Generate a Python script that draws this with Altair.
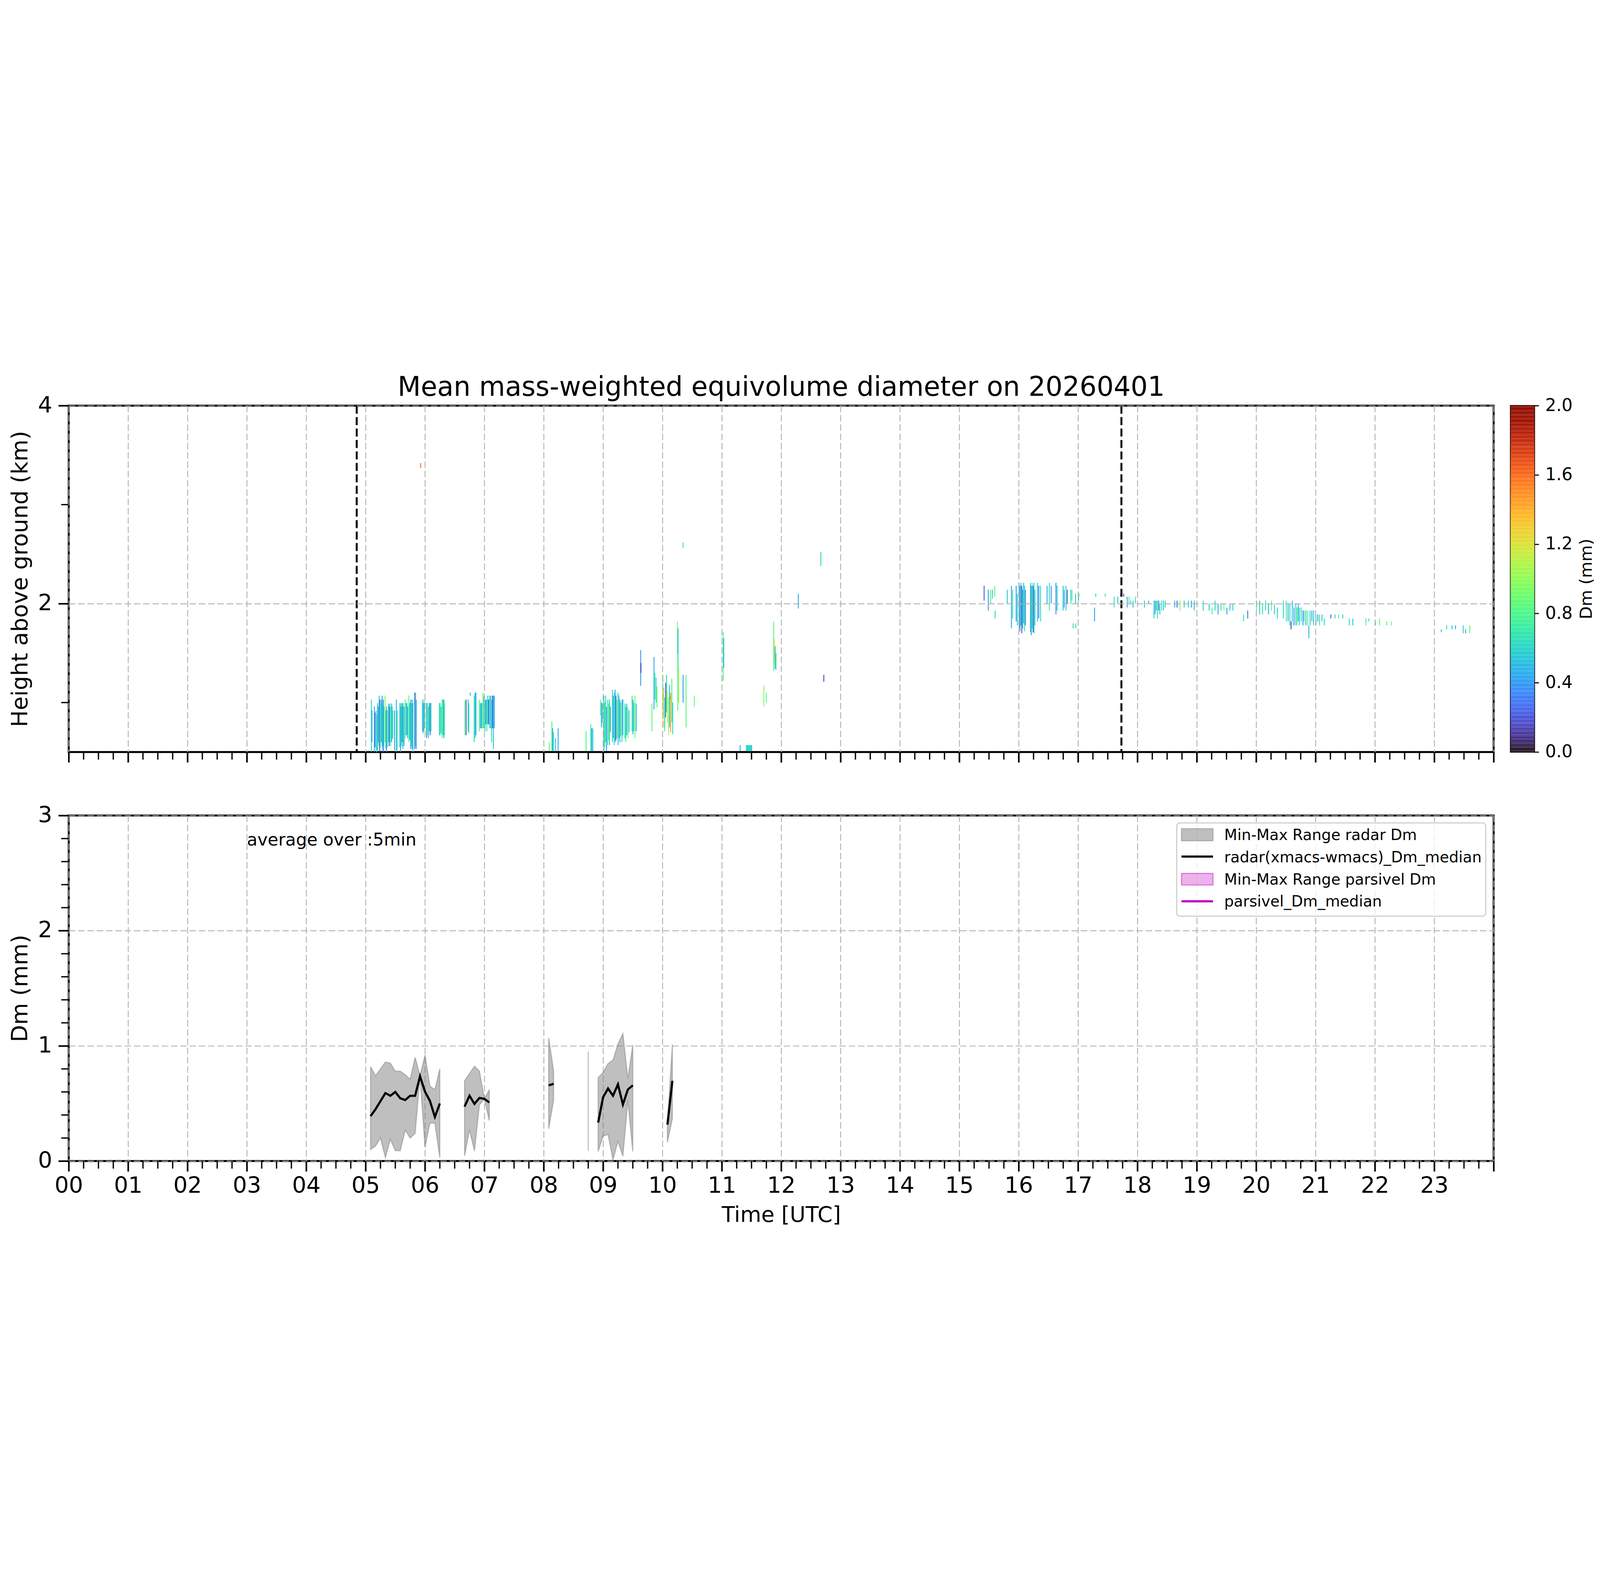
import altair as alt
import pandas as pd

# ---------------------------------------------------------------- data
title_text = "Mean mass-weighted equivolume diameter on 20260401"

# radar Dm curtain, read as vertical streaks:
# (time [h UTC], bottom [km], top [km], Dm [mm])
curtain_05 = [
    (5.09, 0.50, 1.03, 0.62), (5.10, 0.60, 0.92, 0.45), (5.14, 0.50, 0.96, 0.42),
    (5.15, 0.55, 0.90, 0.25), (5.17, 0.52, 0.92, 0.60), (5.18, 0.50, 0.88, 0.70),
    (5.195, 0.52, 0.995, 0.50), (5.205, 0.60, 0.96, 0.38), (5.22, 0.56, 1.07, 0.62),
    (5.23, 0.50, 1.03, 0.20), (5.24, 0.55, 0.99, 0.75), (5.255, 0.60, 1.03, 0.55),
    (5.27, 0.56, 1.07, 0.45), (5.28, 0.52, 0.99, 0.68), (5.29, 0.50, 1.03, 0.30),
    (5.30, 0.56, 0.96, 0.60), (5.32, 0.60, 1.07, 0.95), (5.335, 0.53, 0.92, 0.50),
    (5.345, 0.50, 0.96, 0.42), (5.36, 0.55, 0.92, 0.72), (5.38, 0.60, 0.99, 0.55),
    (5.39, 0.56, 0.96, 0.20), (5.40, 0.60, 0.99, 0.62), (5.415, 0.56, 0.96, 0.80),
    (5.43, 0.60, 0.99, 0.45), (5.44, 0.63, 0.96, 0.58), (5.45, 0.64, 0.92, 0.68),
    (5.48, 0.52, 0.92, 0.40), (5.51, 0.50, 1.03, 0.45), (5.525, 0.52, 0.92, 0.75),
    (5.57, 0.55, 0.995, 0.55), (5.58, 0.50, 0.96, 0.42), (5.59, 0.60, 0.995, 0.70),
    (5.60, 0.56, 0.96, 0.62), (5.61, 0.60, 0.995, 0.28), (5.62, 0.53, 0.96, 0.55),
    (5.63, 0.60, 0.995, 0.78), (5.64, 0.56, 0.96, 0.45), (5.66, 0.64, 1.03, 0.80),
    (5.675, 0.67, 0.995, 0.52), (5.69, 0.67, 0.995, 0.62), (5.70, 0.64, 0.96, 0.42),
    (5.72, 0.60, 1.07, 0.85), (5.735, 0.62, 0.995, 0.55), (5.75, 0.53, 1.03, 0.45),
    (5.76, 0.56, 0.995, 0.65), (5.775, 0.53, 1.03, 0.40), (5.79, 0.50, 0.995, 0.60),
    (5.82, 0.53, 1.10, 0.22), (5.835, 0.56, 1.10, 0.70), (5.845, 0.53, 1.03, 0.42),
    (5.95, 0.71, 1.03, 0.70), (5.96, 0.69, 0.995, 0.40), (5.975, 0.71, 1.03, 0.62),
    (5.985, 0.74, 0.995, 0.55), (6.02, 0.64, 0.995, 0.42), (6.035, 0.67, 0.995, 0.78),
    (6.05, 0.64, 0.96, 0.58), (6.065, 0.71, 0.995, 0.62), (6.08, 0.67, 0.995, 0.25),
    (6.095, 0.71, 0.995, 0.68), (6.235, 0.67, 0.995, 0.60), (6.25, 0.67, 0.995, 0.80),
    (6.265, 0.69, 0.96, 0.55), (6.28, 0.64, 1.03, 0.85), (6.295, 0.67, 1.03, 0.62),
    (6.31, 0.64, 1.03, 0.45), (6.32, 0.67, 0.995, 0.70),
]
curtain_07 = [
    (6.665, 0.67, 1.02, 0.85), (6.685, 0.67, 1.03, 0.20), (6.72, 0.71, 1.03, 0.50),
    (6.73, 0.69, 0.99, 0.62), (6.755, 1.07, 1.10, 0.45), (6.82, 0.60, 1.07, 0.75),
    (6.835, 0.64, 1.10, 0.55), (6.85, 0.67, 1.10, 0.40), (6.91, 0.71, 1.03, 0.80),
    (6.925, 0.74, 0.995, 0.60), (6.94, 0.74, 0.995, 0.45), (6.955, 0.74, 0.995, 0.68),
    (6.97, 0.74, 1.10, 0.90), (6.985, 0.74, 1.07, 0.55), (7.005, 0.71, 1.03, 0.62),
    (7.02, 0.78, 1.03, 0.40), (7.035, 0.71, 1.03, 0.70), (7.05, 0.78, 1.07, 0.55),
    (7.065, 0.78, 1.03, 0.25), (7.08, 0.74, 1.07, 0.62), (7.10, 0.74, 1.07, 0.45),
    (7.115, 0.60, 1.03, 0.62), (7.13, 0.74, 1.07, 0.20), (7.145, 0.53, 1.07, 0.55),
    (7.16, 0.74, 1.07, 0.42),
]
curtain_08 = [
    (8.085, 0.51, 0.60, 0.85), (8.13, 0.51, 0.81, 0.78), (8.142, 0.51, 0.74, 0.45),
    (8.155, 0.51, 0.70, 0.62), (8.19, 0.51, 0.64, 0.55), (8.235, 0.51, 0.74, 0.45),
    (8.705, 0.51, 0.71, 0.80), (8.785, 0.51, 0.78, 0.70), (8.80, 0.51, 0.74, 0.42),
    (8.82, 0.51, 0.74, 0.55),
]
curtain_09 = [
    (8.95, 0.87, 1.03, 0.85), (8.965, 0.75, 1.00, 0.45), (8.98, 0.80, 0.99, 0.62),
    (9.005, 0.51, 1.07, 0.55), (9.02, 0.55, 1.00, 0.80), (9.035, 0.60, 1.07, 0.62),
    (9.05, 0.51, 0.96, 0.40), (9.07, 0.57, 1.03, 0.70), (9.085, 0.62, 0.99, 0.95),
    (9.10, 0.57, 1.03, 0.55), (9.115, 0.70, 0.96, 0.45), (9.15, 0.60, 1.13, 0.62),
    (9.165, 0.64, 1.07, 0.50), (9.18, 0.57, 1.10, 0.70), (9.195, 0.60, 1.13, 0.42),
    (9.21, 0.62, 1.07, 0.25), (9.23, 0.64, 1.03, 0.90), (9.245, 0.57, 1.10, 0.55),
    (9.26, 0.64, 1.07, 0.65), (9.275, 0.60, 1.03, 0.45), (9.29, 0.66, 1.00, 0.80),
    (9.31, 0.60, 1.03, 0.62), (9.325, 0.67, 1.03, 0.40), (9.36, 0.64, 0.99, 0.62),
    (9.375, 0.60, 0.96, 0.75), (9.39, 0.67, 0.99, 0.45), (9.41, 0.64, 0.95, 0.85),
    (9.43, 0.70, 0.92, 0.55), (9.48, 0.71, 1.07, 0.78), (9.495, 0.68, 1.03, 0.45),
    (9.51, 0.71, 1.00, 0.62), (9.53, 0.64, 1.07, 0.90), (9.55, 0.71, 0.99, 0.50),
]
curtain_10 = [
    (9.625, 1.17, 1.53, 0.40), (9.63, 1.30, 1.40, 0.15), (9.815, 0.71, 0.99, 0.85),
    (9.85, 0.93, 1.46, 0.45), (9.865, 1.03, 1.30, 0.70), (9.885, 1.00, 1.25, 0.62),
    (9.90, 0.95, 1.16, 0.90), (10.0, 0.87, 1.28, 0.95), (10.015, 0.75, 1.15, 1.30),
    (10.03, 0.71, 1.05, 0.70), (10.045, 0.85, 1.20, 0.25), (10.06, 0.90, 1.28, 0.62),
    (10.075, 0.80, 1.12, 1.05), (10.095, 0.67, 1.05, 1.10), (10.11, 0.75, 1.18, 0.55),
    (10.12, 1.03, 1.07, 1.50), (10.13, 0.70, 1.10, 1.45), (10.15, 0.80, 1.24, 0.80),
    (10.165, 0.68, 1.00, 0.62), (10.245, 1.49, 1.82, 0.90), (10.255, 1.30, 1.75, 0.55),
    (10.25, 0.92, 1.46, 0.80), (10.265, 1.00, 1.35, 1.05), (10.34, 1.00, 1.28, 0.40),
    (10.39, 0.75, 1.28, 0.85), (10.53, 0.96, 1.07, 0.85),
]
curtain_11_12 = [
    (11.015, 1.22, 1.71, 0.80), (11.025, 1.35, 1.65, 0.50), (11.30, 0.51, 0.57, 0.42),
    (11.405, 0.51, 0.57, 0.62), (11.42, 0.51, 0.57, 0.55), (11.435, 0.51, 0.57, 0.65),
    (11.45, 0.51, 0.57, 0.58), (11.465, 0.51, 0.57, 0.62), (11.48, 0.51, 0.57, 0.55),
    (11.495, 0.51, 0.57, 0.60), (11.70, 0.96, 1.17, 0.95), (11.74, 1.00, 1.10, 0.85),
    (11.865, 1.32, 1.82, 0.80), (11.875, 1.40, 1.65, 1.20), (11.89, 1.34, 1.57, 0.45),
    (11.905, 1.33, 1.50, 0.70), (12.28, 1.95, 2.10, 0.45), (12.66, 2.38, 2.52, 0.60),
    (12.71, 1.21, 1.28, 0.15),
]
curtain_isolated = [
    (5.92, 3.37, 3.42, 1.60), (10.34, 2.56, 2.62, 0.75),
]
curtain_16 = [
    (15.41, 2.03, 2.18, 0.20), (15.48, 1.93, 2.14, 0.42), (15.52, 2.00, 2.14, 0.80),
    (15.55, 2.05, 2.14, 0.62), (15.59, 2.07, 2.18, 0.85), (15.595, 1.85, 1.93, 0.62),
    (15.80, 2.00, 2.14, 0.55), (15.87, 1.75, 2.18, 0.45), (15.89, 1.85, 2.14, 0.70),
    (15.95, 1.82, 2.18, 0.40), (15.97, 1.78, 2.10, 0.58), (16.00, 1.75, 2.21, 0.62),
    (16.015, 1.72, 2.18, 0.35), (16.03, 1.78, 2.21, 0.55), (16.045, 1.70, 2.18, 0.20),
    (16.06, 1.75, 2.14, 0.62), (16.075, 1.80, 2.21, 0.45), (16.09, 1.72, 2.18, 0.68),
    (16.105, 1.78, 2.14, 0.30), (16.19, 1.71, 2.21, 0.55), (16.205, 1.68, 2.18, 0.42),
    (16.22, 1.75, 2.21, 0.75), (16.235, 1.71, 2.18, 0.20), (16.25, 1.70, 2.21, 0.62),
    (16.265, 1.78, 2.14, 0.50), (16.31, 1.82, 2.21, 0.55), (16.33, 1.85, 2.18, 0.35),
    (16.36, 1.82, 2.18, 0.65), (16.47, 2.00, 2.18, 0.45), (16.51, 1.93, 2.21, 0.70),
    (16.54, 2.00, 2.18, 0.40), (16.62, 1.89, 2.21, 0.35), (16.64, 1.93, 2.18, 0.60),
    (16.74, 1.93, 2.18, 0.55), (16.76, 1.96, 2.14, 0.42), (16.79, 1.93, 2.18, 0.62),
    (16.81, 2.00, 2.14, 0.20), (16.87, 2.00, 2.14, 0.62), (16.89, 2.03, 2.14, 0.80),
    (16.91, 1.75, 1.80, 0.62), (16.95, 2.00, 2.10, 0.55), (16.955, 1.75, 1.80, 0.68),
    (17.00, 2.03, 2.10, 0.45), (17.01, 2.07, 2.11, 0.95), (17.27, 1.82, 1.96, 0.42),
    (17.29, 2.07, 2.10, 0.62), (17.45, 2.07, 2.10, 0.70), (17.60, 1.96, 2.07, 0.70),
    (17.66, 2.00, 2.07, 0.55), (17.71, 2.07, 2.10, 0.20), (17.76, 2.07, 2.10, 0.15),
]
curtain_18_23 = [
    (17.82, 1.96, 2.07, 0.45), (17.85, 2.00, 2.07, 0.80), (17.88, 2.00, 2.03, 0.62),
    (17.92, 1.96, 2.03, 0.55), (17.96, 2.00, 2.07, 0.70), (18.11, 1.96, 2.03, 0.55),
    (18.18, 2.00, 2.03, 0.45), (18.27, 1.85, 2.03, 0.62), (18.29, 1.89, 2.03, 0.40),
    (18.31, 1.93, 2.03, 0.55), (18.33, 1.85, 2.03, 0.65), (18.35, 1.93, 2.03, 0.30),
    (18.37, 1.89, 2.00, 0.62), (18.40, 1.93, 2.03, 0.75), (18.43, 1.93, 2.03, 0.55),
    (18.46, 1.96, 2.03, 0.62), (18.62, 1.96, 2.03, 0.45), (18.66, 1.96, 2.03, 0.20),
    (18.71, 1.93, 2.03, 0.95), (18.78, 1.96, 2.03, 0.55), (18.85, 1.96, 2.03, 0.62),
    (18.90, 1.96, 2.03, 0.40), (18.95, 1.93, 2.03, 0.55), (19.10, 1.93, 2.03, 0.62),
    (19.20, 1.93, 2.00, 0.55), (19.25, 1.89, 1.96, 0.80), (19.30, 1.93, 2.03, 0.62),
    (19.35, 1.89, 2.00, 0.45), (19.40, 1.93, 2.00, 0.70), (19.45, 1.93, 2.00, 0.95),
    (19.50, 1.89, 1.96, 0.42), (19.55, 1.93, 2.00, 0.55), (19.60, 1.93, 2.00, 0.62),
    (19.78, 1.82, 1.89, 0.70), (19.85, 1.85, 1.93, 0.25), (20.00, 1.93, 2.03, 0.85),
    (20.05, 1.89, 2.03, 0.55), (20.10, 1.89, 2.00, 0.70), (20.15, 1.93, 2.03, 0.62),
    (20.20, 1.89, 2.00, 0.45), (20.25, 1.93, 2.03, 0.85), (20.30, 1.89, 2.00, 0.62),
    (20.35, 1.85, 1.96, 0.55), (20.45, 1.85, 2.03, 0.62), (20.50, 1.82, 2.03, 0.75),
    (20.53, 1.82, 2.00, 0.45), (20.56, 1.78, 2.00, 0.62), (20.58, 1.74, 1.82, 0.15),
    (20.60, 1.82, 2.03, 0.55), (20.63, 1.78, 1.96, 0.35), (20.66, 1.78, 2.00, 0.62),
    (20.68, 1.78, 1.96, 0.80), (20.70, 1.82, 2.00, 0.45), (20.72, 1.78, 1.96, 0.58),
    (20.75, 1.82, 1.96, 0.65), (20.78, 1.78, 1.93, 0.40), (20.80, 1.82, 1.93, 0.62),
    (20.83, 1.78, 1.93, 0.55), (20.86, 1.78, 1.93, 0.80), (20.88, 1.65, 1.78, 0.50),
    (20.90, 1.78, 1.93, 0.62), (20.93, 1.82, 1.93, 0.45), (20.96, 1.78, 1.93, 0.55),
    (21.00, 1.78, 1.89, 0.62), (21.03, 1.82, 1.89, 0.40), (21.06, 1.78, 1.89, 0.70),
    (21.10, 1.82, 1.89, 0.55), (21.14, 1.78, 1.85, 0.62), (21.25, 1.85, 1.89, 0.20),
    (21.32, 1.85, 1.89, 0.62), (21.38, 1.85, 1.89, 0.80), (21.45, 1.85, 1.89, 0.55),
    (21.56, 1.78, 1.85, 0.62), (21.62, 1.78, 1.85, 0.55), (21.84, 1.78, 1.85, 0.80),
    (21.89, 1.82, 1.85, 0.70), (22.00, 1.78, 1.82, 0.55), (22.07, 1.78, 1.85, 0.85),
    (22.19, 1.78, 1.82, 0.80), (22.27, 1.78, 1.82, 0.90), (23.11, 1.71, 1.74, 0.55),
    (23.20, 1.74, 1.78, 0.62), (23.29, 1.74, 1.78, 0.55), (23.35, 1.74, 1.78, 0.45),
    (23.48, 1.70, 1.78, 0.62), (23.52, 1.70, 1.74, 0.40), (23.59, 1.70, 1.78, 0.85),
]

# dashed event markers in the upper panel [h UTC]
event_times = [4.85, 17.73]

# 5-min statistics of the radar Dm (lower panel), one list per continuous run
stat_times = [
    ["05:05", "05:10", "05:15", "05:20", "05:25", "05:30", "05:35", "05:40",
     "05:45", "05:50", "05:55", "06:00", "06:05", "06:10", "06:15"],
    ["06:40", "06:45", "06:50", "06:55", "07:00", "07:05"],
    ["08:05", "08:10"],
    ["08:45"],
    ["08:55", "09:00", "09:05", "09:10", "09:15", "09:20", "09:25", "09:30"],
    ["10:05", "10:10"],
]
stat_median = [
    [0.39, 0.45, 0.52, 0.59, 0.567, 0.60, 0.545, 0.53, 0.567, 0.567, 0.736, 0.603, 0.522, 0.383, 0.50],
    [0.473, 0.567, 0.496, 0.548, 0.54, 0.509],
    [0.657, 0.671],
    [None],
    [0.334, 0.554, 0.63, 0.567, 0.666, 0.491, 0.621, 0.657],
    [0.316, 0.697],
]
stat_max = [
    [0.82, 0.74, 0.80, 0.86, 0.85, 0.78, 0.78, 0.75, 0.71, 0.90, 0.74, 0.92, 0.65, 0.62, 0.80],
    [0.697, 0.76, 0.823, 0.781, 0.54, 0.619],
    [1.07, 0.78],
    [0.95],
    [0.724, 0.769, 0.846, 0.877, 1.016, 1.106, 0.715, 1.007],
    [0.316, 1.012],
]
stat_min = [
    [0.10, 0.13, 0.20, 0.03, 0.19, 0.09, 0.09, 0.27, 0.20, 0.24, 0.736, 0.12, 0.33, 0.33, 0.03],
    [0.047, 0.271, 0.087, 0.487, 0.54, 0.352],
    [0.28, 0.53],
    [0.09],
    [0.083, 0.217, 0.231, 0.011, 0.172, 0.042, 0.531, 0.083],
    [0.163, 0.37],
]

hour_ticks = list(range(0, 25))
hour_minor_ticks = [q / 4 for q in range(0, 97) if q % 4]
height_major_ticks = [2, 4]
height_minor_ticks = [1, 3]
dm_major_ticks = [0, 1, 2, 3]
dm_minor_ticks = [0.2, 0.4, 0.6, 0.8, 1.2, 1.4, 1.6, 1.8, 2.2, 2.4, 2.6, 2.8]
cbar_ticks = [0.0, 0.4, 0.8, 1.2, 1.6, 2.0]
legend_labels = ["Min-Max Range radar Dm", "radar(xmacs-wmacs)_Dm_median",
                 "Min-Max Range parsivel Dm", "parsivel_Dm_median"]
average_note = "average over :5min"

# ---------------------------------------------------------------- frames
def to_hours(hhmm):
    h, m = hhmm.split(":")
    return int(h) + int(m) / 60.0

curtain_rows = []
for cluster in [curtain_05, curtain_07, curtain_08, curtain_09, curtain_10,
                curtain_11_12, curtain_isolated, curtain_16, curtain_18_23]:
    for t, b, tp, dm in cluster:
        curtain_rows.append({"t": t, "bottom": b, "top": tp, "dm": dm})
curtain_df = pd.DataFrame(curtain_rows)

stat_rows = []
for i, times in enumerate(stat_times):
    for j, hhmm in enumerate(times):
        stat_rows.append({"seg": i, "t": to_hours(hhmm), "dmin": stat_min[i][j],
                          "dmax": stat_max[i][j], "med": stat_median[i][j]})
stat_df = pd.DataFrame(stat_rows)

# ---------------------------------------------------------------- style
FONT = "DejaVu Sans"
W = 6600
H1 = 1604
H2 = 1600
CBW = 111
STREAK_W = 0.015
MAJ = 48
MIN = 35
GRID = dict(grid=True, gridColor="#b0b0b0", gridDash=[30, 13], gridWidth=4)

x_scale = alt.Scale(domain=[0, 24], nice=False, zero=False)
y_top_scale = alt.Scale(domain=[0.5, 4], nice=False, zero=False)
y_bot_scale = alt.Scale(domain=[0, 3], nice=False, zero=False)
turbo = alt.Scale(scheme="turbo", domain=[0, 2])
frame = alt.ViewBackground(stroke="black", strokeWidth=9, fill="white")

x_axis_top = alt.Axis(values=hour_ticks, labels=False, tickSize=MAJ, tickWidth=7.5,
                      tickColor="black", domain=False, title=None, zindex=1, **GRID)
x_axis_bot = alt.Axis(values=hour_ticks, tickSize=MAJ, tickWidth=7.5, tickColor="black",
                      domain=False, zindex=0,
                      labelExpr="datum.value < 24 ? format(datum.value, '02d') : ''",
                      labelFontSize=104, labelPadding=17, labelFlush=False,
                      labelOverlap=False, labelColor="black", labelFont=FONT,
                      title="Time [UTC]", titleFontSize=100, titleFontWeight="normal",
                      titlePadding=33, titleColor="black", titleFont=FONT, **GRID)
y_axis_top = alt.Axis(values=height_major_ticks, format="d", tickSize=MAJ, tickWidth=7.5,
                      tickColor="black", domain=False, zindex=1, labelFontSize=104,
                      labelPadding=29, labelColor="black", labelFont=FONT,
                      title="Height above ground (km)", titleFontSize=104,
                      titleFontWeight="normal", titlePadding=27, titleColor="black",
                      titleFont=FONT, **GRID)
y_axis_bot = alt.Axis(values=dm_major_ticks, format="d", tickSize=MAJ, tickWidth=7.5,
                      tickColor="black", domain=False, zindex=0, labelFontSize=104,
                      labelPadding=29, labelColor="black", labelFont=FONT,
                      title="Dm (mm)", titleFontSize=104, titleFontWeight="normal",
                      titlePadding=27, titleColor="black", titleFont=FONT, **GRID)


def minor_x(height):
    return alt.Chart(pd.DataFrame({"t": hour_minor_ticks})).mark_rule(
        color="black", strokeWidth=6).encode(
        x=alt.X("t:Q", scale=x_scale),
        y=alt.value(height), y2=alt.value(height + MIN))


def minor_y(values, scale, field):
    return alt.Chart(pd.DataFrame({field: values})).mark_rule(
        color="black", strokeWidth=6).encode(
        y=alt.Y(field + ":Q", scale=scale),
        x=alt.value(0), x2=alt.value(-MIN))


# ---------------------------------------------------------------- upper panel
heat = alt.Chart(curtain_df).transform_calculate(
    t2="datum.t + %f" % STREAK_W
).mark_rect().encode(
    x=alt.X("t:Q", scale=x_scale, axis=x_axis_top),
    x2="t2:Q",
    y=alt.Y("bottom:Q", scale=y_top_scale, axis=y_axis_top),
    y2="top:Q",
    color=alt.Color("dm:Q", scale=turbo, legend=None),
)
events = alt.Chart(pd.DataFrame({"t": event_times})).mark_rule(
    color="black", strokeWidth=9, strokeDash=[37, 16]).encode(
    x=alt.X("t:Q", scale=x_scale))

top = alt.layer(
    heat, events, minor_x(H1), minor_y(height_minor_ticks, y_top_scale, "bottom")
).properties(
    width=W, height=H1, view=frame,
    title=alt.TitleParams(text=title_text, fontSize=124, font=FONT, fontWeight="normal",
                          anchor="middle", frame="group", baseline="alphabetic",
                          offset=-131, color="black"),
)

cbar = alt.Chart(alt.sequence(0, 2.0, 0.005, as_="v")).transform_calculate(
    v2="datum.v + 0.005"
).mark_rect().encode(
    x=alt.value(0), x2=alt.value(CBW),
    y=alt.Y("v:Q", scale=alt.Scale(domain=[0, 2], nice=False, zero=False),
            axis=alt.Axis(orient="right", values=cbar_ticks, format=".1f", tickSize=20,
                          tickWidth=5, tickColor="black", domain=False, grid=False,
                          labelFontSize=80, labelPadding=29, labelColor="black",
                          labelFont=FONT, title="Dm (mm)", titleFontSize=78,
                          titleFontWeight="normal", titleAngle=270, titleBaseline="top",
                          titlePadding=27, titleColor="black", titleFont=FONT)),
    y2="v2:Q",
    color=alt.Color("v:Q", scale=turbo, legend=None),
).properties(width=CBW, height=H1,
             view=alt.ViewBackground(stroke="black", strokeWidth=5))

# ---------------------------------------------------------------- lower panel
area = alt.Chart(stat_df).mark_area(
    fill="#808080", fillOpacity=0.5, stroke="#808080", strokeOpacity=0.5, strokeWidth=5
).encode(
    x=alt.X("t:Q", scale=x_scale, axis=x_axis_bot),
    y=alt.Y("dmin:Q", scale=y_bot_scale, axis=y_axis_bot),
    y2="dmax:Q",
    detail="seg:N",
)
median = alt.Chart(stat_df).transform_filter("isValid(datum.med)").mark_line(
    color="black", strokeWidth=10).encode(
    x=alt.X("t:Q", scale=x_scale),
    y=alt.Y("med:Q", scale=y_bot_scale),
    detail="seg:N",
)
note = alt.Chart(pd.DataFrame({"txt": [average_note]})).mark_text(
    align="left", baseline="alphabetic", fontSize=80, font=FONT, color="black"
).encode(x=alt.value(W * 0.125), y=alt.value(138), text="txt:N")


def one(label):
    return pd.DataFrame({"label": [label]})


LX0, LX1, LTX = 5154, 5300, 5352
legend_frame = alt.Chart(one("frame")).mark_rect(
    fill="white", fillOpacity=0.8, stroke="#cccccc", strokeWidth=5, cornerRadius=14
).encode(x=alt.value(5132), x2=alt.value(6563), y=alt.value(34), y2=alt.value(466))
leg_patch_radar = alt.Chart(one(legend_labels[0])).mark_rect(
    fill="#808080", fillOpacity=0.5, stroke="#808080", strokeOpacity=0.5, strokeWidth=5
).encode(x=alt.value(LX0), x2=alt.value(LX1), y=alt.value(61), y2=alt.value(117))
leg_line_radar = alt.Chart(one(legend_labels[1])).mark_rule(
    color="black", strokeWidth=10
).encode(x=alt.value(LX0), x2=alt.value(LX1), y=alt.value(190))
leg_patch_pars = alt.Chart(one(legend_labels[2])).mark_rect(
    fill="#bf00bf", fillOpacity=0.3, stroke="#bf00bf", strokeOpacity=0.45, strokeWidth=5
).encode(x=alt.value(LX0), x2=alt.value(LX1), y=alt.value(268), y2=alt.value(322))
leg_line_pars = alt.Chart(one(legend_labels[3])).mark_rule(
    color="#bf00bf", strokeWidth=10
).encode(x=alt.value(LX0), x2=alt.value(LX1), y=alt.value(397))


def leg_text(label, ybase):
    return alt.Chart(one(label)).mark_text(
        align="left", baseline="alphabetic", fontSize=70, font=FONT, color="black"
    ).encode(x=alt.value(LTX), y=alt.value(ybase), text="label:N")


bottom = alt.layer(
    area, median, minor_x(H2), minor_y(dm_minor_ticks, y_bot_scale, "dmin"), note,
    legend_frame, leg_patch_radar, leg_line_radar, leg_patch_pars, leg_line_pars,
    leg_text(legend_labels[0], 113), leg_text(legend_labels[1], 216),
    leg_text(legend_labels[2], 319), leg_text(legend_labels[3], 421),
).properties(width=W, height=H2, view=frame)

chart = alt.vconcat(
    alt.hconcat(top, cbar, spacing=78, bounds="flush"),
    bottom,
    spacing=180,
).properties(
    padding={"left": 24, "top": 81, "right": 5, "bottom": 5},
    background="white",
).configure(font=FONT)

chart.save("out.html", embed_options={"renderer": "svg", "actions": False})
